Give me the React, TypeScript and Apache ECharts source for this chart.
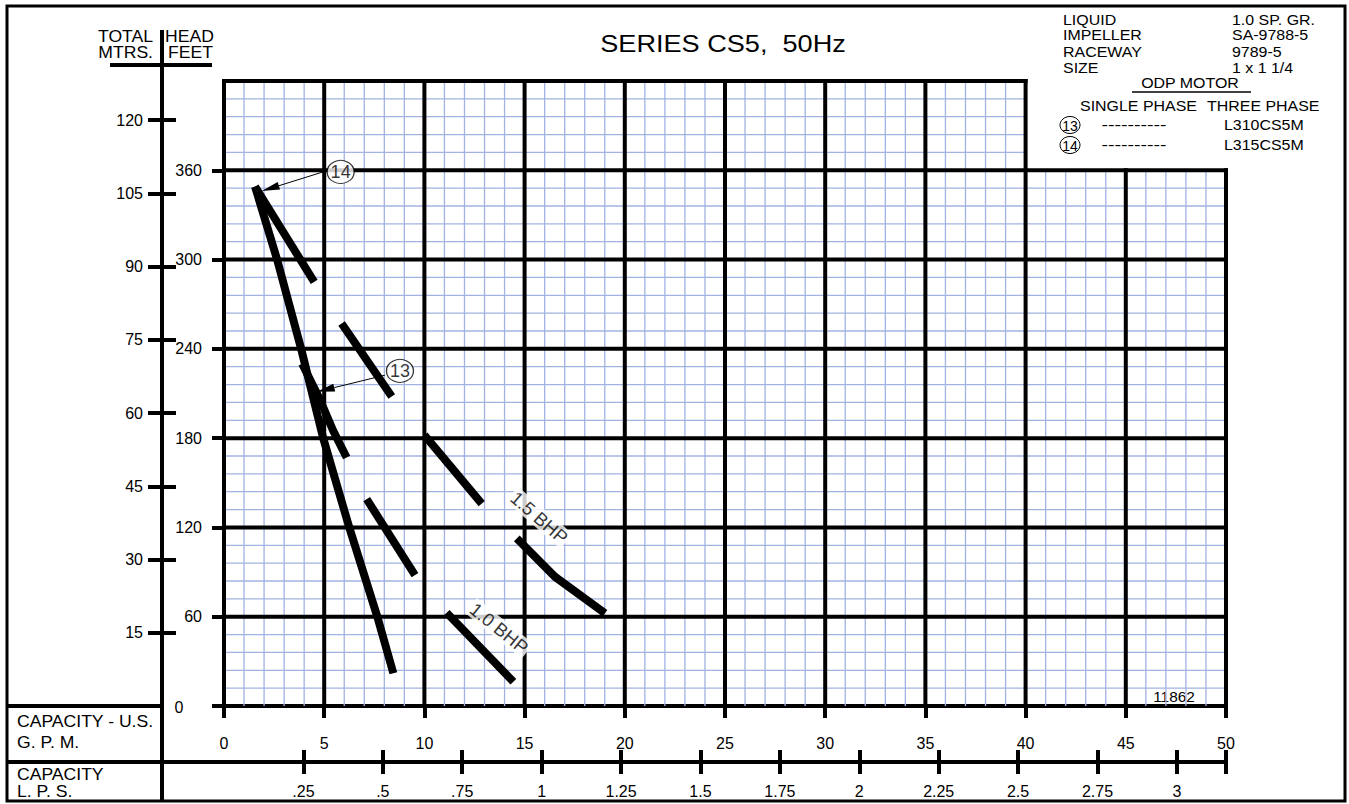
import React, { useEffect, useRef } from 'react';
import * as echarts from 'echarts';

const FONT = '"Liberation Sans", Arial, Helvetica, sans-serif';
const WIDEN = 1.1; // the drawing's lettering is a little wider than Arial

// ---------- axes ----------
const gpmMax = 50;
const gpmPerLps = 15.8503;
const lpsMax = gpmMax / gpmPerLps;
const feetMax = 420;
const feetPerMeter = 3.28084;
const meterMax = feetMax / feetPerMeter;
const feetTickValues = [0, 60, 120, 180, 240, 300, 360];
const feetLabelValues = [60, 120, 180, 240, 300, 360];
const meterTickValues = [15, 30, 45, 60, 75, 90, 105, 120];
const lpsLabelValues = [0.25, 0.5, 0.75, 1, 1.25, 1.5, 1.75, 2, 2.25, 2.5, 2.75, 3];
const lpsTickValues = [...lpsLabelValues, lpsMax];
const gpmMajorStep = 5;
const gpmMinorStep = 1;
const feetMajorStep = 60;
const feetMinorStep = 12;
const tallGridMaxGpm = 40; // chart paper is 420 ft tall up to 40 gpm
const shortGridTopFeet = 360; // and 360 ft tall from 40 to 50 gpm

// ---------- curve segments (gpm, feet) ----------
const curveLongA = [[1.55, 349], [2.65, 300], [3.85, 240], [4.95, 180], [6.25, 120], [7.65, 60], [8.45, 22]];
const curveB = [[1.55, 349], [4.5, 285]];
const curveC = [[5.87, 257], [8.37, 208]];
const curveD = [[3.9, 230], [4.75, 207], [5.45, 185], [6.12, 167]];
const curveE = [[7.12, 139], [9.53, 88]];
const curveF = [[10, 182], [12.86, 136]];
const curveG = [[14.61, 112.6], [16.52, 86.8], [19.01, 62.3]];
const curveH = [[11.11, 62.7], [14.44, 16.3]];
const curves = [curveLongA, curveB, curveC, curveD, curveE, curveF, curveG, curveH];

// ---------- annotations ----------
const bhpNames = ['1.5 BHP', '1.0 BHP'];
const bhpPoints = [[15.73, 126.6], [13.73, 52.2]];
const bhpAngles = [-41, -39];
const calloutNames = ['14', '13'];
const calloutPoints = [[5.82, 358.9], [8.78, 225.2]];
const calloutArrowStart = [[5.04, 359.3], [8.03, 222.3]];
const calloutArrowEnd = [[1.88, 346], [4.63, 211.1]];

// ---------- info block ----------
const titleText = 'SERIES CS5,  50Hz';
const infoLabels = ['LIQUID', 'IMPELLER', 'RACEWAY', 'SIZE'];
const infoValues = ['1.0 SP. GR.', 'SA-9788-5', '9789-5', '1 x 1 1/4'];
const motorIds = ['13', '14'];
const motorSingle = ['----------', '----------'];
const motorThree = ['L310CS5M', 'L315CS5M'];
const drawingNo = '11862';

function buildGridSegments() {
  const minor: number[][] = [];
  const major: number[][] = [];
  for (let x = 0; x <= gpmMax + 1e-9; x += gpmMinorStep) {
    const top = x <= tallGridMaxGpm ? feetMax : shortGridTopFeet;
    const isMajor = Math.abs(x / gpmMajorStep - Math.round(x / gpmMajorStep)) < 1e-9;
    (isMajor ? major : minor).push([x, 0, x, top, isMajor ? 1 : 0]);
  }
  for (let y = feetMinorStep; y <= feetMax + 1e-9; y += feetMinorStep) {
    const right = y <= shortGridTopFeet ? gpmMax : tallGridMaxGpm;
    const isMajor = Math.abs(y / feetMajorStep - Math.round(y / feetMajorStep)) < 1e-9;
    (isMajor ? major : minor).push([0, y, right, y, isMajor ? 1 : 0]);
  }
  return [...minor, ...major];
}

const txt = (x: number, y: number, text: string, fontSize: number, align = 'left', scaleX = WIDEN) => ({
  type: 'text',
  x,
  y,
  scaleX,
  silent: true,
  style: { text, fontSize, fontFamily: FONT, fill: '#000', align, verticalAlign: 'middle' },
});
const ln = (x1: number, y1: number, x2: number, y2: number, w: number) => ({
  type: 'line',
  silent: true,
  shape: { x1, y1, x2, y2 },
  style: { stroke: '#000', lineWidth: w },
});

export default function App() {
  const ref = useRef<HTMLDivElement>(null);
  useEffect(() => {
    if (!ref.current) return;
    const chart = echarts.init(ref.current, undefined, { renderer: 'svg' });
    const axisLabelBase = { color: '#000', fontSize: 16, fontFamily: FONT };
    const blackLine = { color: '#000', width: 4 };

    const graphics: any[] = [
      { type: 'rect', silent: true, shape: { x: 7, y: 6, width: 1338, height: 795 }, style: { fill: 'none', stroke: '#000', lineWidth: 3 } },
      ln(162, 30, 162, 82, 4),
      ln(162, 705, 162, 801, 4),
      ln(7, 706, 164, 706, 4),
      ln(7, 762, 226, 762, 4),
      ln(110, 65, 212, 65, 4),
      txt(153, 37, 'TOTAL', 16, 'right'),
      txt(165, 37, 'HEAD', 16, 'left'),
      txt(153, 53, 'MTRS.', 16, 'right'),
      txt(168, 53, 'FEET', 16, 'left'),
      txt(723, 44, titleText, 24, 'center', 1.13),
      txt(179, 707, '0', 16, 'center', 1),
      txt(17, 722, 'CAPACITY - U.S.', 16),
      txt(17, 743, 'G. P. M.', 16),
      txt(17, 775, 'CAPACITY', 16),
      txt(17, 792, 'L. P. S.', 16),
      txt(1174, 697, drawingNo, 14, 'center'),
      txt(1190, 83, 'ODP MOTOR', 14.5, 'center'),
      ln(1132, 92, 1251, 92, 1.5),
      txt(1080, 106, 'SINGLE PHASE', 14.5),
      txt(1207, 106, 'THREE PHASE', 14.5),
    ];
    const infoY = [20, 35, 51.5, 68];
    infoLabels.forEach((l, i) => {
      graphics.push(txt(1063, infoY[i], l, 14.5));
      graphics.push(txt(1232, infoY[i], infoValues[i], 14.5));
    });
    const motorY = [125, 145];
    motorIds.forEach((id, i) => {
      graphics.push({ type: 'ellipse', silent: true, shape: { cx: 1070, cy: motorY[i], rx: 10, ry: 8.5 }, style: { fill: '#fff', stroke: '#000', lineWidth: 1 } });
      graphics.push(txt(1070, motorY[i] + 0.5, id, 14, 'center', 1));
      graphics.push(txt(1134, motorY[i], motorSingle[i], 14, 'center', 1.4));
      graphics.push(txt(1224, motorY[i], motorThree[i], 14.5));
    });

    const option: any = {
      animation: false,
      backgroundColor: '#fff',
      grid: { left: 224, right: 123, top: 81, bottom: 98, containLabel: false },
      xAxis: [
        {
          type: 'value', min: 0, max: gpmMax, interval: gpmMajorStep, position: 'bottom',
          axisLine: { show: true, onZero: false, lineStyle: blackLine },
          axisTick: { show: true, length: 12, lineStyle: blackLine },
          axisLabel: { ...axisLabelBase, margin: 29 },
          splitLine: { show: false },
        },
        {
          type: 'value', min: 0, max: lpsMax, position: 'bottom', offset: 56,
          axisLine: { show: true, onZero: false, lineStyle: blackLine },
          axisTick: { show: true, length: 12, customValues: lpsTickValues, lineStyle: blackLine },
          axisLabel: {
            ...axisLabelBase, margin: 21, customValues: lpsLabelValues,
            formatter: (v: number) => { const s = String(+v.toFixed(2)); return s.startsWith('0.') ? s.slice(1) : s; },
          },
          splitLine: { show: false },
        },
        {
          type: 'value', min: 0, max: lpsMax, position: 'bottom', offset: 56,
          axisLine: { show: false, onZero: false },
          axisTick: { show: true, inside: true, length: 12, customValues: lpsTickValues, lineStyle: blackLine },
          axisLabel: { show: false },
          splitLine: { show: false },
        },
      ],
      yAxis: [
        {
          type: 'value', min: 0, max: feetMax, position: 'left',
          axisLine: { show: false, onZero: false },
          axisTick: { show: true, length: 12, customValues: feetTickValues, lineStyle: blackLine },
          axisLabel: { ...axisLabelBase, margin: 22, customValues: feetLabelValues },
          splitLine: { show: false },
        },
        {
          type: 'value', min: 0, max: meterMax, position: 'left', offset: 62,
          axisLine: { show: true, onZero: false, lineStyle: blackLine },
          axisTick: { show: true, length: 14, customValues: meterTickValues, lineStyle: blackLine },
          axisLabel: { ...axisLabelBase, margin: 19, customValues: meterTickValues },
          splitLine: { show: false },
        },
        {
          type: 'value', min: 0, max: meterMax, position: 'left', offset: 62,
          axisLine: { show: false, onZero: false },
          axisTick: { show: true, inside: true, length: 14, customValues: meterTickValues, lineStyle: blackLine },
          axisLabel: { show: false },
          splitLine: { show: false },
        },
      ],
      series: [
        {
          type: 'custom', name: 'chart paper', xAxisIndex: 0, yAxisIndex: 0, z: 1, silent: true, clip: false,
          dimensions: ['x1', 'y1', 'x2', 'y2', 'major'],
          encode: { x: [0, 2], y: [1, 3] },
          data: buildGridSegments(),
          renderItem: (_p: any, api: any) => {
            const a = api.coord([api.value(0), api.value(1)]);
            const b = api.coord([api.value(2), api.value(3)]);
            const major = api.value(4) === 1;
            return {
              type: 'line',
              shape: { x1: a[0], y1: a[1], x2: b[0], y2: b[1] },
              style: { stroke: major ? '#000' : '#a2b2e2', lineWidth: major ? 4 : 1.3, lineCap: major ? 'square' : 'butt' },
            };
          },
        },
        {
          type: 'scatter', name: 'bhp', xAxisIndex: 0, yAxisIndex: 0, z: 2, silent: true,
          symbolSize: 1, itemStyle: { color: 'rgba(0,0,0,0)' },
          data: bhpNames.map((n, i) => ({
            name: n, value: bhpPoints[i],
            label: { rotate: bhpAngles[i] },
          })),
          label: {
            show: true, position: 'inside', formatter: (p: any) => p.name,
            color: '#000', fontSize: 18.5, fontFamily: FONT, backgroundColor: '#fff', padding: [0, 2],
          },
        },
        ...curves.map((c, i) => ({
          type: 'line', name: 'curve' + i, xAxisIndex: 0, yAxisIndex: 0, z: 3, silent: true,
          showSymbol: false, symbol: 'none',
          lineStyle: { color: '#000', width: 8, cap: 'butt', join: 'miter' },
          data: c,
        })),
        {
          type: 'custom', name: 'arrows', xAxisIndex: 0, yAxisIndex: 0, z: 4, silent: true, clip: false,
          dimensions: ['x1', 'y1', 'x2', 'y2'],
          encode: { x: [0, 2], y: [1, 3] },
          data: calloutArrowStart.map((s, i) => [s[0], s[1], calloutArrowEnd[i][0], calloutArrowEnd[i][1]]),
          renderItem: (_p: any, api: any) => {
            const a = api.coord([api.value(0), api.value(1)]);
            const b = api.coord([api.value(2), api.value(3)]);
            const dx = b[0] - a[0];
            const dy = b[1] - a[1];
            const len = Math.hypot(dx, dy) || 1;
            const ux = dx / len;
            const uy = dy / len;
            const headLen = 18;
            const headW = 4;
            const base = [b[0] - ux * headLen, b[1] - uy * headLen];
            return {
              type: 'group',
              children: [
                { type: 'line', shape: { x1: a[0], y1: a[1], x2: base[0], y2: base[1] }, style: { stroke: '#000', lineWidth: 1 } },
                {
                  type: 'polygon',
                  shape: { points: [b, [base[0] - uy * headW, base[1] + ux * headW], [base[0] + uy * headW, base[1] - ux * headW]] },
                  style: { fill: '#000' },
                },
              ],
            };
          },
        },
        {
          type: 'scatter', name: 'callouts', xAxisIndex: 0, yAxisIndex: 0, z: 5, silent: true,
          symbol: 'circle', symbolSize: [27, 23],
          itemStyle: { color: '#fff', borderColor: '#000', borderWidth: 1.2 },
          data: calloutNames.map((n, i) => ({ name: n, value: calloutPoints[i] })),
          label: { show: true, position: 'inside', formatter: (p: any) => p.name, color: '#000', fontSize: 18, fontFamily: FONT },
        },
      ],
      graphic: graphics,
    };
    chart.setOption(option);
    return () => chart.dispose();
  }, []);
  return (
    <div
      ref={ref}
      style={{ position: 'fixed', left: 0, top: 0, width: 1349, height: 804, background: '#fff' }}
    />
  );
}
